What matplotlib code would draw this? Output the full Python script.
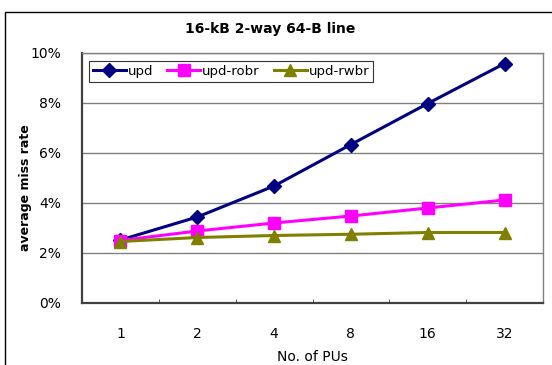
import matplotlib.pyplot as plt
from matplotlib.patches import Rectangle
from matplotlib.ticker import FuncFormatter, MultipleLocator
import numpy as np

# Data (miss rate in %)
pus = ["1", "2", "4", "8", "16", "32"]
upd = [2.52, 3.44, 4.68, 6.34, 7.98, 9.58]
upd_robr = [2.50, 2.88, 3.20, 3.48, 3.80, 4.12]
upd_rwbr = [2.46, 2.62, 2.70, 2.75, 2.82, 2.82]

plt.rcParams['font.family'] = ['DejaVu Sans']

fig = plt.figure(figsize=(5.52, 3.65), dpi=100)
ax = fig.add_axes([82 / 552, 1 - 303 / 365, (543 - 82) / 552, (303 - 53) / 365])

# outer chart border (only left/top fall inside the image)
fig.patches.append(Rectangle((5.5 / 552, -0.1), 1.2, 1.1 - 12.5 / 365,
                             transform=fig.transFigure, fill=False,
                             edgecolor='black', linewidth=1.0))

x = np.arange(len(pus))
ax.plot(x, upd, color='#000080', marker='D', markersize=7, linewidth=2.2, label='upd')
ax.plot(x, upd_robr, color='#FF00FF', marker='s', markersize=8.5, linewidth=2.2, label='upd-robr')
ax.plot(x, upd_rwbr, color='#808000', marker='^', markersize=9, linewidth=2.2, label='upd-rwbr')

ax.set_xlim(-0.5, len(pus) - 0.5)
ax.set_ylim(0, 10)
ax.yaxis.set_major_locator(MultipleLocator(2))
ax.yaxis.set_major_formatter(FuncFormatter(lambda v, p: f"{v:.0f}%"))
ax.grid(axis='y', color='#808080', linewidth=1)
ax.set_axisbelow(True)

ax.set_xticks(x)
ax.set_xticklabels(pus)
ax.set_xticks(np.arange(len(pus) + 1) - 0.5, minor=True)
ax.tick_params(axis='x', which='major', length=0, pad=17, labelsize=10)
ax.tick_params(axis='x', which='minor', direction='in', length=3, color='#404040')
ax.tick_params(axis='y', length=0, pad=15, labelsize=10)

for s in ['top', 'right']:
    ax.spines[s].set_color('#808080')
    ax.spines[s].set_linewidth(1)
for s in ['left', 'bottom']:
    ax.spines[s].set_color('#404040')
    ax.spines[s].set_linewidth(1.6)

ax.set_xlabel("No. of PUs", fontsize=10, labelpad=7)
ax.set_ylabel("average miss rate", fontsize=9, fontweight='bold')
ax.yaxis.set_label_coords(-50 / 461, 0.46)
fig.text(270 / 552, 1 - 29 / 365, "16-kB 2-way 64-B line", ha='center', va='center',
         fontsize=10, fontweight='bold')

leg = ax.legend(loc='upper left', ncol=3, bbox_to_anchor=(7 / 461, 1 - 8 / 250),
                fontsize=9.5, frameon=True, fancybox=False, borderpad=0.3,
                handlelength=2.5, handletextpad=0.15, columnspacing=1.05,
                borderaxespad=0)
leg.get_frame().set_edgecolor('black')
leg.get_frame().set_linewidth(0.8)

fig.savefig("out.png", dpi=100)
